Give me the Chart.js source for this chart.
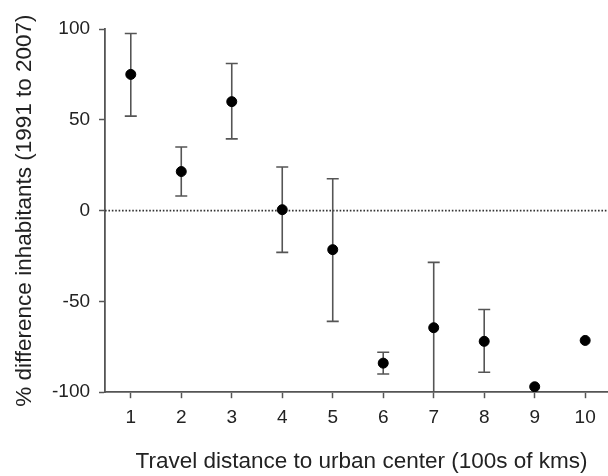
<!DOCTYPE html>
<html>
<head>
<meta charset="utf-8">
<script src="https://cdn.jsdelivr.net/npm/chart.js@4"></script>
<style>
  html, body { margin: 0; padding: 0; background: #fff; overflow: hidden; }
  #wrap { width: 624px; height: 476px; position: relative; }
</style>
</head>
<body>
<div id="wrap"><canvas id="chart"></canvas></div>
<script>
// Data
const distances = [1, 2, 3, 4, 5, 6, 7, 8, 9, 10];
const meanDiff = [75, 21.5, 60, 0.5, -21.5, -84, -64.5, -72, -97, -71.5];
const errHigh = [97.5, 35, 81, 24, 17.5, -78, -28.5, -54.5, null, null];
const errLow = [52, 8, 39.5, -23, -61, -90, -110, -89, null, null];
const xTicks = [1, 2, 3, 4, 5, 6, 7, 8, 9, 10];
const yTicks = [-100, -50, 0, 50, 100];

const axisColor = '#555';
const textColor = '#222';
const fontFamily = '"Liberation Sans", Arial, sans-serif';

// Error bars + dotted zero line
const errorBars = {
    id: 'errorBars',
    beforeDatasetsDraw(chart) {
        const { ctx, chartArea, scales } = chart;
        const y0 = scales.y.getPixelForValue(0);
        ctx.save();
        ctx.strokeStyle = '#333';
        ctx.lineWidth = 1.6;
        ctx.setLineDash([1.6, 1.8]);
        ctx.beginPath();
        ctx.moveTo(chartArea.left, y0);
        ctx.lineTo(chartArea.right, y0);
        ctx.stroke();
        ctx.restore();

        ctx.save();
        ctx.beginPath();
        ctx.rect(chartArea.left, chartArea.top - 5, chartArea.right - chartArea.left, chartArea.bottom - chartArea.top + 5);
        ctx.clip();
        ctx.strokeStyle = axisColor;
        ctx.lineWidth = 1.6;
        distances.forEach((d, i) => {
            if (errHigh[i] === null) return;
            const x = scales.x.getPixelForValue(d);
            const top = scales.y.getPixelForValue(errHigh[i]);
            const bot = scales.y.getPixelForValue(errLow[i]);
            ctx.beginPath();
            ctx.moveTo(x, top);
            ctx.lineTo(x, bot);
            ctx.moveTo(x - 6, top);
            ctx.lineTo(x + 6, top);
            ctx.moveTo(x - 6, bot);
            ctx.lineTo(x + 6, bot);
            ctx.stroke();
        });
        ctx.restore();
    }
};

const chart = new Chart(document.getElementById('chart'), {
    type: 'scatter',
    data: {
        datasets: [{
            data: distances.map((d, i) => ({ x: d, y: meanDiff[i] })),
            backgroundColor: '#000',
            borderColor: '#000',
            pointRadius: 5,
            pointHoverRadius: 5
        }]
    },
    options: {
        responsive: true,
        maintainAspectRatio: false,
        animation: false,
        layout: { padding: { top: 29, right: 0, bottom: 1, left: 11 } },
        plugins: {
            legend: { display: false },
            tooltip: { enabled: false }
        },
        scales: {
            x: {
                type: 'linear',
                min: 0.49,
                max: 10.65,
                afterBuildTicks: (scale) => { scale.ticks = xTicks.map(v => ({ value: v })); },
                grid: { drawOnChartArea: false, drawTicks: true, tickLength: 6, tickColor: axisColor, tickWidth: 1.5 },
                border: { color: axisColor, width: 1.8 },
                ticks: { color: textColor, font: { family: fontFamily, size: 19 }, padding: 8, maxRotation: 0 },
                title: {
                    display: true,
                    text: 'Travel distance to urban center (100s of kms)',
                    color: textColor,
                    font: { family: fontFamily, size: 22.5 },
                    padding: { top: 11, bottom: 0 }
                }
            },
            y: {
                min: -100,
                max: 100,
                afterBuildTicks: (scale) => { scale.ticks = yTicks.map(v => ({ value: v })); },
                grid: { drawOnChartArea: false, drawTicks: true, tickLength: 6, tickColor: axisColor, tickWidth: 1.5 },
                border: { color: axisColor, width: 1.8 },
                ticks: { color: textColor, font: { family: fontFamily, size: 19 }, padding: 9 },
                title: {
                    display: true,
                    text: '% difference inhabitants (1991 to 2007)',
                    color: textColor,
                    font: { family: fontFamily, size: 22.5 },
                    padding: { top: 0, bottom: 5 }
                }
            }
        }
    },
    plugins: [errorBars]
});
</script>
</body>
</html>
